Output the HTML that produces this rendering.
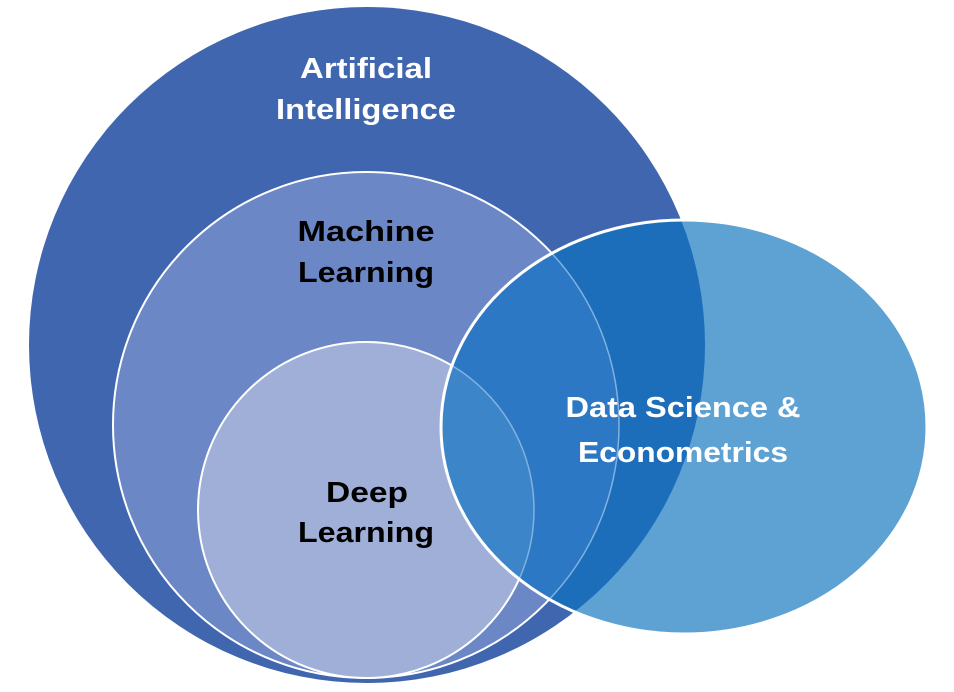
<!DOCTYPE html>
<html><head><meta charset="utf-8"><style>html,body{margin:0;padding:0;background:#fff}svg{display:block}</style></head>
<body>
<svg width="954" height="692" viewBox="0 0 954 692" xmlns="http://www.w3.org/2000/svg">
<defs>
<clipPath id="ds"><ellipse cx="684" cy="427" rx="243" ry="207"/></clipPath>
</defs>
<circle cx="367" cy="345" r="338" fill="#3F66AF"/>
<circle cx="366" cy="425" r="253" fill="#6C87C6" stroke="#fff" stroke-width="2"/>
<circle cx="366" cy="510" r="168" fill="#9FAFD8" stroke="#fff" stroke-width="2"/>
<ellipse cx="684" cy="427" rx="243" ry="207" fill="#5EA2D4"/>
<g clip-path="url(#ds)">
<circle cx="367" cy="345" r="338" fill="#1C6EBB"/>
<circle cx="366" cy="425" r="253" fill="#2D78C4" stroke="#7FB2E0" stroke-width="1.5"/>
<circle cx="366" cy="510" r="168" fill="#3C85C8" stroke="#7FB2E0" stroke-width="1.5"/>
</g>
<ellipse cx="684" cy="427" rx="243" ry="207" fill="none" stroke="#fff" stroke-width="3"/>
<g font-family="Liberation Sans, sans-serif" font-weight="bold" font-size="29" text-anchor="middle">
<text x="366" y="78" fill="#fff" textLength="132" lengthAdjust="spacingAndGlyphs">Artificial</text>
<text x="366" y="119" fill="#fff" textLength="180" lengthAdjust="spacingAndGlyphs">Intelligence</text>
<text x="366" y="241" fill="#000" textLength="137" lengthAdjust="spacingAndGlyphs">Machine</text>
<text x="366" y="282" fill="#000" textLength="136" lengthAdjust="spacingAndGlyphs">Learning</text>
<text x="367" y="502" fill="#000" textLength="82" lengthAdjust="spacingAndGlyphs">Deep</text>
<text x="366" y="542" fill="#000" textLength="136" lengthAdjust="spacingAndGlyphs">Learning</text>
<text x="683" y="417" fill="#fff" textLength="235" lengthAdjust="spacingAndGlyphs">Data Science &amp;</text>
<text x="683" y="462" fill="#fff" textLength="210" lengthAdjust="spacingAndGlyphs">Econometrics</text>
</g>
</svg>
</body></html>
